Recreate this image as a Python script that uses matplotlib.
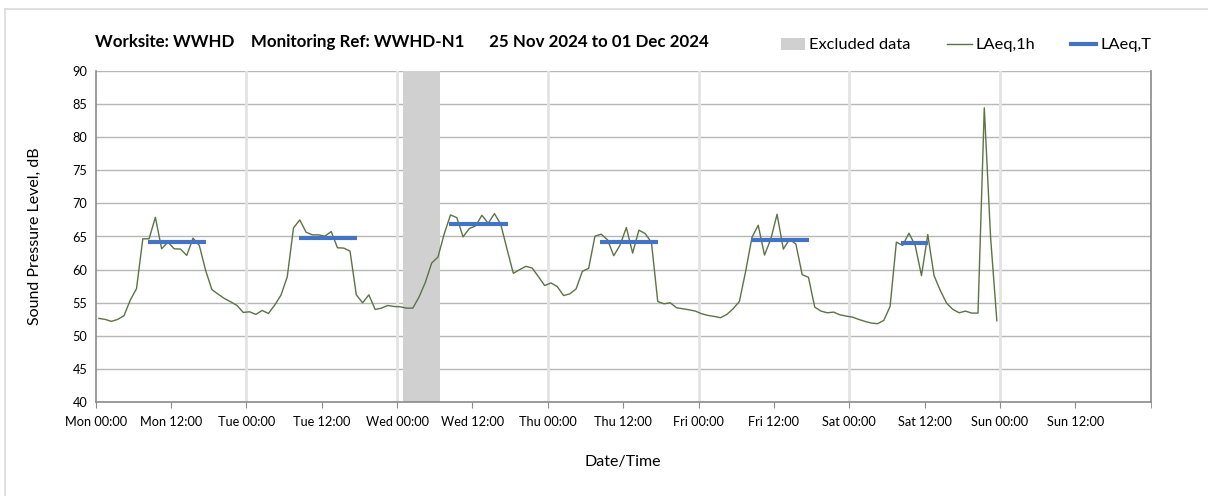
import matplotlib
matplotlib.use("Agg")
import matplotlib.pyplot as plt
import numpy as np
from matplotlib.lines import Line2D
from matplotlib.patches import Patch

plt.rcParams['font.family'] = ['Lato', 'DejaVu Sans']

# Hourly LAeq,1h values (hours from Mon 00:00, plotted at hour mid-points)
laeq_1h = [
    52.65, 52.5, 52.2, 52.5, 53.05, 55.4, 57.15, 64.65, 64.65, 67.9, 63.15, 64.15,
    63.15, 63.1, 62.15, 64.75, 63.65, 59.9, 57.0, 56.3, 55.65, 55.15, 54.6, 53.55,
    53.65, 53.25, 53.85, 53.4, 54.65, 56.15, 58.9, 66.3, 67.5, 65.65, 65.25, 65.25,
    65.05, 65.75, 63.3, 63.25, 62.8, 56.2, 55.0, 56.2, 54.0, 54.2, 54.6, 54.45,
    54.4, 54.2, 54.2, 55.9, 58.1, 61.0, 61.9, 65.4, 68.25, 67.85, 64.95, 66.2,
    66.6, 68.2, 67.0, 68.45, 66.85, 63.1, 59.45, 60.0, 60.5, 60.25, 58.95, 57.6,
    58.0, 57.45, 56.1, 56.35, 57.1, 59.75, 60.2, 65.05, 65.35, 64.5, 62.1, 63.7,
    66.35, 62.5, 65.95, 65.45, 64.1, 55.2, 54.85, 55.0, 54.25, 54.1, 53.95, 53.75,
    53.35, 53.1, 52.95, 52.75, 53.25, 54.1, 55.2, 59.75, 64.85, 66.7, 62.2, 64.6,
    68.35, 63.1, 64.6, 63.85, 59.25, 58.85, 54.35, 53.75, 53.5, 53.6, 53.2, 53.0,
    52.85, 52.5, 52.2, 51.95, 51.85, 52.35, 54.45, 64.15, 63.65, 65.5, 63.65, 59.1,
    65.3, 59.1, 56.85, 54.95, 54.0, 53.5, 53.75, 53.45, 53.45, 84.4, 64.9, 52.3,
]

# LAeq,T over daytime periods (start/end hours from Mon 00:00)
laeq_t_start = [8.3, 32.3, 56.3, 80.3, 104.3, 128.3]
laeq_t_end = [17.6, 41.6, 65.6, 89.6, 113.6, 132.6]
laeq_t_value = [64.2, 64.75, 66.85, 64.15, 64.45, 64.05]

# Excluded data period
excluded_start = 49.0
excluded_end = 54.9

tick_labels = ["Mon 00:00", "Mon 12:00", "Tue 00:00", "Tue 12:00", "Wed 00:00",
               "Wed 12:00", "Thu 00:00", "Thu 12:00", "Fri 00:00", "Fri 12:00",
               "Sat 00:00", "Sat 12:00", "Sun 00:00", "Sun 12:00"]

fig = plt.figure(figsize=(12.08, 4.96), dpi=100)
ax = fig.add_axes([95.7 / 1208, 1 - 402.3 / 496, (1150.7 - 95.7) / 1208, (402.3 - 70.7) / 496])

hours = np.arange(len(laeq_1h)) + 0.5

ax.axvspan(excluded_start, excluded_end, color='#d0d0d0', lw=0, zorder=1)
ax.plot(hours, laeq_1h, color='#5b7345', lw=1.0, zorder=3)
for s, e, v in zip(laeq_t_start, laeq_t_end, laeq_t_value):
    ax.plot([s, e], [v, v], color='#4472c4', lw=3, solid_capstyle='butt', zorder=4)

ax.set_xlim(0, 168)
ax.set_ylim(40, 90)
ax.set_yticks(np.arange(40, 91, 5))
ax.set_xticks(np.arange(0, 168, 12))
ax.set_xticklabels(tick_labels)
ax.set_xticks([168], minor=True)

# gridlines
for y in np.arange(45, 91, 5):
    ax.axhline(y, color='#b7b7b7', lw=1.0, zorder=0.5)
for x in np.arange(24, 168, 24):
    ax.axvline(x, color='#e3e3e3', lw=2.0, zorder=0.5)

ax.spines['top'].set_visible(False)
for side in ['right', 'left', 'bottom']:
    ax.spines[side].set_color('#8a8a8a')
for sp in ax.spines.values():
    sp.set_linewidth(1.2)

ax.tick_params(axis='x', which='both', direction='out', length=4, color='#8a8a8a',
               labelsize=9.2, pad=6)
ax.tick_params(axis='y', direction='out', length=0, labelsize=9.2, pad=6)

ax.set_ylabel('Sound Pressure Level, dB', fontsize=11.5, labelpad=22)
ax.set_xlabel('Date/Time', fontsize=11.5, labelpad=19)

fig.text(95 / 1208, 1 - 42 / 496,
         'Worksite: WWHD    Monitoring Ref: WWHD-N1      25 Nov 2024 to 01 Dec 2024',
         fontsize=12.2, fontweight='bold', va='center', ha='left')

handles = [Patch(facecolor='#d0d0d0', edgecolor='none'),
           Line2D([], [], color='#5b7345', lw=1.0),
           Line2D([], [], color='#4472c4', lw=3)]
fig.legend(handles, ['Excluded data', 'LAeq,1h', 'LAeq,T'], ncol=3, frameon=False,
           loc='center left', bbox_to_anchor=(766 / 1208, 1 - 45 / 496),
           fontsize=11.8, handlelength=1.5, handleheight=0.8, handletextpad=0.25,
           columnspacing=2.2)

# outer light border
fig.add_artist(Line2D([5 / 1208, 5 / 1208], [0, 1 - 9 / 496], transform=fig.transFigure,
                      color='#dadada', lw=1.2))
fig.add_artist(Line2D([5 / 1208, 1], [1 - 9 / 496, 1 - 9 / 496], transform=fig.transFigure,
                      color='#dadada', lw=1.2))

fig.savefig('out.png', dpi=100)
